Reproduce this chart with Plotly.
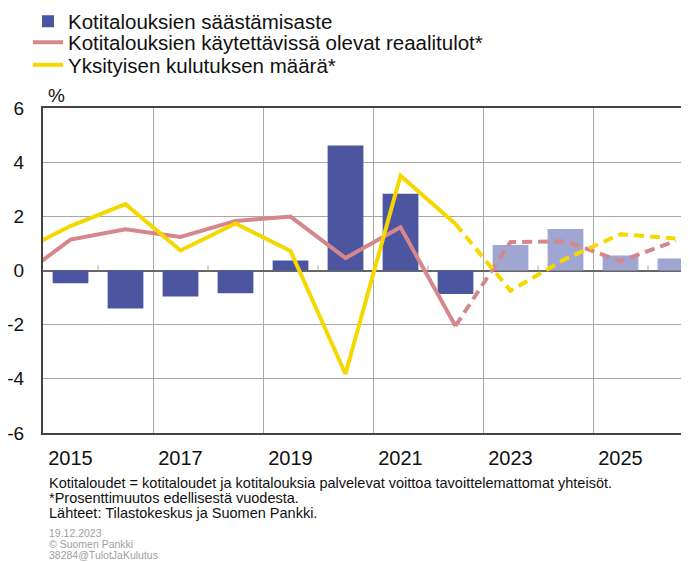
import plotly.graph_objects as go

# ---- data ----
bar_years_actual = [2015, 2016, 2017, 2018, 2019, 2020, 2021, 2022]
saving_actual = [-0.47, -1.40, -0.96, -0.84, 0.37, 4.62, 2.83, -0.87]
bar_years_fcst = [2023, 2024, 2025, 2026]
saving_fcst = [0.94, 1.53, 0.55, 0.44]

line_years_actual = [2014, 2015, 2016, 2017, 2018, 2019, 2020, 2021, 2022]
income_actual = [-0.37, 1.14, 1.52, 1.24, 1.83, 1.99, 0.46, 1.60, -2.05]
consumption_actual = [0.62, 1.64, 2.45, 0.74, 1.74, 0.72, -3.82, 3.50, 1.72]
line_years_fcst = [2022, 2023, 2024, 2025, 2026]
income_fcst = [-2.05, 1.05, 1.08, 0.35, 1.09]
consumption_fcst = [1.72, -0.75, 0.43, 1.34, 1.18]

x_tick_years = [2015, 2017, 2019, 2021, 2023, 2025]
x_tick_labels = ["2015", "2017", "2019", "2021", "2023", "2025"]
grid_years = [2016.5, 2018.5, 2020.5, 2022.5, 2024.5]
minor_tick_years = [2015.5, 2017.5, 2019.5, 2021.5, 2023.5, 2025.5]
y_ticks = [-6, -4, -2, 0, 2, 4, 6]
y_tick_labels = ["-6", "-4", "-2", "0", "2", "4", "6"]

names = ["Kotitalouksien säästämisaste",
         "Kotitalouksien käytettävissä olevat reaalitulot*",
         "Yksityisen kulutuksen määrä*"]
notes = ["Kotitaloudet = kotitaloudet ja kotitalouksia palvelevat voittoa tavoittelemattomat yhteisöt.",
         "*Prosenttimuutos edellisestä vuodesta.",
         "Lähteet: Tilastokeskus ja Suomen Pankki."]
small_notes = ["19.12.2023", "© Suomen Pankki", "38284@TulotJaKulutus"]

# ---- style ----
DARK = "#4B55A0"
LIGHT = "#A0A6D2"
RED = "#D5878C"
YEL = "#F5D800"
FONT = "Liberation Sans, Arial, sans-serif"

# the page body has an 8px margin, so the figure is placed at (8, 8)
OFF = 8
VW, VH = 689, 562
W, H = VW - OFF, VH - OFF
PLOT_L, PLOT_T, PLOT_B = 43, 108, 432.7          # page pixels
L, T = PLOT_L - OFF, PLOT_T - OFF
B = H - (PLOT_B - OFF)
R = 0
PW, PH = W - L - R, H - T - B
X0 = 2014.5
X1 = X0 + PW / 55.0

def px_x(p):
    return (p - PLOT_L) / PW

def px_y(p):
    return (PLOT_B - p) / PH

fig = go.Figure()
fig.add_trace(go.Bar(x=bar_years_actual, y=saving_actual, name=names[0], legend="legend",
                     marker=dict(color=DARK, line=dict(width=0)), width=0.65))
fig.add_trace(go.Bar(x=bar_years_fcst, y=saving_fcst, name=names[0], showlegend=False,
                     marker=dict(color=LIGHT, line=dict(width=0)), width=0.65))
fig.add_trace(go.Scatter(x=line_years_actual, y=income_actual, mode="lines", name=names[1],
                         line=dict(color=RED, width=4), legend="legend2"))
fig.add_trace(go.Scatter(x=line_years_fcst, y=income_fcst, mode="lines", showlegend=False,
                         line=dict(color=RED, width=4, dash="10px,6px")))
fig.add_trace(go.Scatter(x=line_years_actual, y=consumption_actual, mode="lines", name=names[2],
                         line=dict(color=YEL, width=4), legend="legend3"))
fig.add_trace(go.Scatter(x=line_years_fcst, y=consumption_fcst, mode="lines", showlegend=False,
                         line=dict(color=YEL, width=4, dash="10px,6px")))
# invisible trace on the overlay axis to draw vertical grid + top border
fig.add_trace(go.Scatter(x=[X0, X1], y=[None, None], xaxis="x2", showlegend=False,
                         hoverinfo="skip"))

shapes = []
for xv in minor_tick_years:
    shapes.append(dict(type="line", xref="x", yref="y", x0=xv, x1=xv,
                       ysizemode="pixel", yanchor=0, y0=0, y1=5,
                       line=dict(color="#AAAAAA", width=1)))

annotations = [dict(text="%", x=px_x(46), y=px_y(96), xref="paper", yref="paper",
                    xanchor="left", yanchor="middle", showarrow=False,
                    font=dict(size=19, color="#111", family=FONT))]
for i, t in enumerate(notes):
    annotations.append(dict(text=t, x=px_x(47), y=px_y(483 + 15 * i), xref="paper", yref="paper",
                            xanchor="left", yanchor="middle", showarrow=False,
                            font=dict(size=14.5, color="#111", family=FONT)))
for i, t in enumerate(small_notes):
    annotations.append(dict(text=t, x=px_x(47), y=px_y(533 + 11 * i), xref="paper", yref="paper",
                            xanchor="left", yanchor="middle", showarrow=False,
                            font=dict(size=10.5, color="#A0A0A0", family=FONT)))

def leg(yc):
    return dict(x=px_x(28), y=px_y(yc), xanchor="left", yanchor="middle",
                font=dict(size=20.5, family=FONT, color="#111"),
                bgcolor="rgba(0,0,0,0)", borderwidth=0, itemwidth=30)

fig.update_layout(
    template="none",
    width=W, height=H,
    margin=dict(l=L, r=R, t=T, b=B, pad=0, autoexpand=False),
    paper_bgcolor="white", plot_bgcolor="white",
    barmode="overlay",
    font=dict(family=FONT, color="#111"),
    showlegend=True,
    legend=leg(21.5), legend2=leg(42.5), legend3=leg(65),
    xaxis=dict(range=[X0, X1], tickvals=x_tick_years, ticktext=x_tick_labels,
               showgrid=False, zeroline=False, ticks="", ticklabelstandoff=6,
               automargin=False,
               showline=True, linecolor="#444", linewidth=2,
               tickfont=dict(size=20, family=FONT, color="#111")),
    xaxis2=dict(range=[X0, X1], overlaying="x", side="top", tickvals=grid_years,
                showticklabels=False, ticks="", showgrid=True, gridcolor="#A8A8A8",
                automargin=False,
                gridwidth=1, zeroline=False, showline=True, linecolor="#444", linewidth=2),
    yaxis=dict(range=[-6, 6], tickvals=y_ticks, ticktext=y_tick_labels,
               showgrid=True, gridcolor="#A8A8A8",
               gridwidth=1, zeroline=True, zerolinecolor="#666", zerolinewidth=1.5,
               automargin=False,
               showline=True, linecolor="#444", linewidth=2, ticks="",
               ticklabelstandoff=13, tickfont=dict(size=19, family=FONT, color="#111")),
    shapes=shapes,
    annotations=annotations,
)

fig.write_html("out.html")
